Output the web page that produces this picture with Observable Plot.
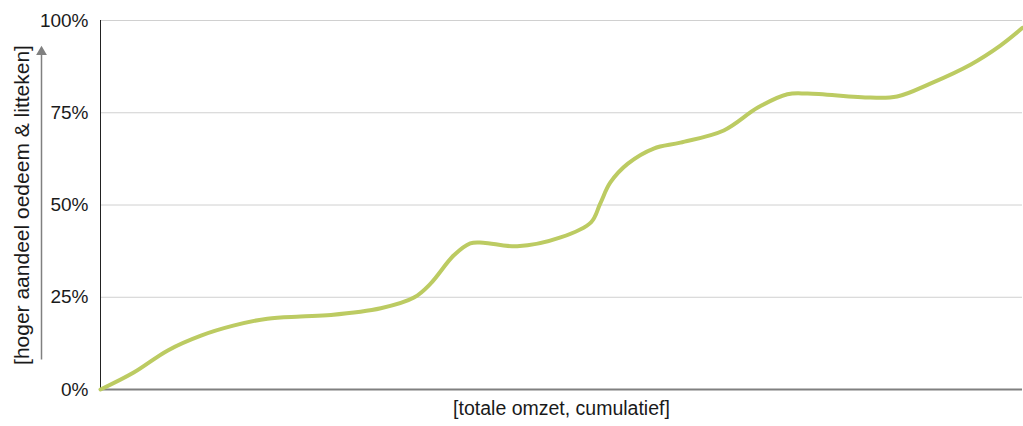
<!DOCTYPE html>
<html>
<head>
<meta charset="utf-8">
<script src="https://cdn.jsdelivr.net/npm/d3@7"></script>
<script src="https://cdn.jsdelivr.net/npm/@observablehq/plot@0.6"></script>
<style>
  html, body { margin: 0; padding: 0; background: #fff; }
  #chart svg { display: block; }
</style>
</head>
<body>
<div id="chart"></div>
<script>
// Cumulative revenue share (x, %) vs cumulative share of higher oedema & scar (y)
const xValues = [0, 3.6, 7.3, 10.9, 14.4, 18.1, 21.7, 25.0, 30.4, 34.0, 35.8, 38.3, 40.1, 41.5, 45.2, 49.9, 53.2, 54.2, 55.3, 57.2, 60.0, 62.9, 67.6, 71.3, 74.5, 76.7, 83.5, 86.4, 90.0, 94.4, 97.6, 100];
const yValues = [0, 0.046, 0.106, 0.146, 0.173, 0.192, 0.198, 0.202, 0.220, 0.249, 0.287, 0.363, 0.396, 0.398, 0.388, 0.412, 0.453, 0.504, 0.561, 0.612, 0.653, 0.669, 0.702, 0.764, 0.800, 0.802, 0.791, 0.794, 0.829, 0.881, 0.932, 0.980];
const yTicks = [0, 0.25, 0.5, 0.75, 1];
const xLabel = "[totale omzet, cumulatief]";
const yLabel = "[hoger aandeel oedeem & litteken]";

const data = xValues.map((x, i) => ({x, y: yValues[i]}));

const chart = Plot.plot({
  width: 1023,
  height: 426,
  marginLeft: 100,
  marginRight: 1,
  marginTop: 20,
  marginBottom: 37,
  style: {fontFamily: "'Liberation Sans', Arial, sans-serif", background: "#fff"},
  x: {domain: [0, 100], axis: null},
  y: {domain: [0, 1], axis: null},
  marks: [
    Plot.ruleY(yTicks.filter(d => d > 0), {stroke: "#d0d0d0", strokeWidth: 1}),
    Plot.axisY({ticks: yTicks, tickFormat: d => Math.round(d * 100) + "%", tickSize: 0, tickPadding: 12, fontSize: 19, fill: "#1a1a1a", label: null}),
    Plot.ruleX([0], {stroke: "#222", strokeWidth: 1}),
    Plot.ruleY([0], {stroke: "#808080", strokeWidth: 2}),
    Plot.line(data, {x: "x", y: "y", stroke: "#bccb62", strokeWidth: 4, curve: "catmull-rom"}),
    Plot.text([xLabel], {frameAnchor: "bottom", dy: 25, fontSize: 19.5, fill: "#1a1a1a", text: d => d}),
    Plot.text([yLabel], {frameAnchor: "left", textAnchor: "middle", dx: -78, rotate: -90, fontSize: 21, fill: "#1a1a1a", text: d => d}),
    Plot.ruleX([0], {y1: 0.08, y2: 0.915, dx: -59, stroke: "#808080", strokeWidth: 1.5}),
    Plot.dot([0], {x: 0, y: 0.915, dx: -59, symbol: "triangle", r: 4, fill: "#808080", stroke: null})
  ]
});
document.getElementById("chart").append(chart);
</script>
</body>
</html>
